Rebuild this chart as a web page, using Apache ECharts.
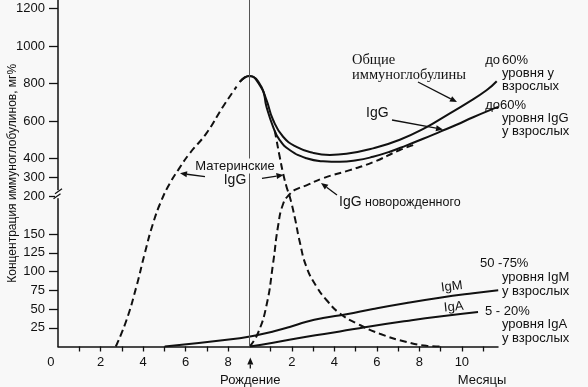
<!DOCTYPE html>
<html>
<head>
<meta charset="utf-8">
<script src="https://cdn.jsdelivr.net/npm/echarts@6/dist/echarts.min.js"></script>
<style>
html,body{margin:0;padding:0;background:#f8f8f8;}
#c{width:588px;height:387px;}
</style>
</head>
<body>
<div id="c"></div>
<script>
// ---- data: [month counted from conception (birth = 9), mg%] ----
const maternalBeforeBirth = [[2.72,0],[3.22,35],[3.69,80],[4.08,124],[4.47,164],[4.87,195],[5.26,268],[5.65,338],[6.20,428],[6.98,534],[7.76,676],[8.40,783]];
const totalIg = [[8.55,808],[9.0,840],[9.49,791],[9.81,711],[10.12,605],[10.59,516],[11.22,462],[12.0,430],[12.79,419],[13.57,425],[14.82,454],[16.08,500],[17.34,567],[18.28,630],[19.22,694],[20.16,764],[20.64,812]];
const igG = [[8.55,808],[9.0,840],[9.57,782],[9.81,675],[10.12,569],[10.43,498],[10.90,445],[11.69,401],[12.47,385],[13.26,382],[14.04,390],[14.82,409],[15.61,436],[16.40,470],[17.18,505],[17.96,542],[18.75,580],[19.53,620],[20.32,658],[20.71,675]];
const maternalAfterBirth = [[10.20,548],[10.28,498],[10.43,409],[10.59,321],[10.75,251],[10.90,200],[11.14,172],[11.37,140],[11.69,106],[12.16,80],[12.63,62],[13.26,44],[14.04,31],[15.14,17],[16.40,6],[17.34,1],[17.96,0]];
const newbornIgG = [[9.02,0],[9.41,18],[9.81,55],[10.12,111],[10.35,160],[10.59,190],[10.90,212],[11.22,238],[11.69,258],[12.47,295],[13.73,338],[14.82,380],[16.08,445],[16.71,471]];
const igM = [[5.02,0],[8.55,11],[9.34,15],[10.12,20],[10.90,26],[11.69,33],[12.47,38],[13.57,43],[14.82,50],[16.40,58],[17.96,65],[19.53,71],[20.71,75]];
const igA = [[9.02,0],[10.12,5],[11.69,13],[13.26,20],[14.51,26],[16.40,34],[17.96,40],[19.76,46]];

const yTickValues = [25,50,75,100,125,150,200,300,400,600,800,1000,1200];
const xTickMonths = [1,2,3,4,5,6,7,8,10,11,12,13,14,15,16,17,18,19,20];
const xLabelMonths = [0,2,4,6,8,11,13,15,17,19];
const BIRTH = 9;

// ---- broken y scale: 0..200 linear, 200..300 squeezed, 300..1200 at 1/4 scale ----
const UPPER_START = 225.7, UPPER_K = 0.25;
function toAxis(v){
  if (v <= 200) return v;
  if (v < 300) return 200 + (v - 200) * (UPPER_START - 200) / 100;
  return UPPER_START + (v - 300) * UPPER_K;
}
const conv = arr => arr.map(p => [p[0], toAxis(p[1])]);
const yTickAxis = yTickValues.map(toAxis);

const FONT = '"Liberation Sans", Arial, sans-serif';
const INK = '#111';
const chart = echarts.init(document.getElementById('c'), null, {renderer:'canvas'});

function lineSeries(name, data, dashed, extra){
  return Object.assign({
    name, type:'line', data: conv(data), showSymbol:false, smooth:0.5,
    lineStyle:{color:INK, width:2, type: dashed ? [7,4] : 'solid'},
    z: dashed ? 3 : 4, silent:true, animation:false
  }, extra || {});
}

const option = {
  backgroundColor:'#f8f8f8',
  animation:false,
  grid:{left:58, top:0, width:440, height:346.5, containLabel:false, outerBoundsMode:'none'},
  xAxis:{
    type:'value', min:0, max:20.7,
    axisLine:{show:true, lineStyle:{color:INK, width:1.5}},
    axisTick:{show:true, customValues:xTickMonths, length:5, lineStyle:{color:INK, width:1.3}},
    axisLabel:{customValues:xLabelMonths, margin:9, fontSize:13, fontFamily:FONT, color:INK,
      formatter: v => v === 0 ? '0\u00a0\u00a0\u00a0\u00a0' : String(v < BIRTH ? v : v - BIRTH)},
    splitLine:{show:false}
  },
  yAxis:{
    type:'value', min:0, max:462,
    name:'Концентрация иммуноглобулинов, мг%', nameLocation:'middle', nameRotate:90, nameGap:39,
    nameMoveOverlap:false,
    nameTextStyle:{fontSize:12, fontFamily:FONT, color:INK},
    axisLine:{show:true, lineStyle:{color:INK, width:1.5}},
    axisTick:{show:true, customValues:yTickAxis, length:9, lineStyle:{color:INK, width:1.3}},
    axisLabel:{customValues:yTickAxis, margin:13, fontSize:13, fontFamily:FONT, color:INK,
      formatter: v => { const i = yTickAxis.findIndex(t => Math.abs(t - v) < 1e-6); return i >= 0 ? String(yTickValues[i]) : ''; }},
    splitLine:{show:false}
  },
  series:[
    lineSeries('Материнские IgG (до рождения)', maternalBeforeBirth, true, {
      markLine:{silent:true, symbol:'none', label:{show:false},
        lineStyle:{color:'#555', width:1, type:'solid'}, data:[{xAxis:BIRTH}]}
    }),
    lineSeries('Общие иммуноглобулины', totalIg, false),
    lineSeries('IgG', igG, false),
    lineSeries('Материнские IgG (после рождения)', maternalAfterBirth, true),
    lineSeries('IgG новорожденного', newbornIgG, true),
    lineSeries('IgM', igM, false),
    lineSeries('IgA', igA, false)
  ]
};
chart.setOption(option);

// ---- annotations ----
function txt(x, y, text, opt){
  opt = opt || {};
  return {type:'text', x, y, z:100, rotation: opt.rotation || 0,
    style:{text, fill:INK, fontSize: opt.size || 13, fontFamily: opt.family || FONT,
      align: opt.align || 'left', verticalAlign:'middle',
      backgroundColor: opt.bg, padding: opt.bg ? [1,2] : 0}};
}
function arrow(x1, y1, x2, y2){
  const a = Math.atan2(y2 - y1, x2 - x1), L = 7, W = 3;
  const bx = x2 - L * Math.cos(a), by = y2 - L * Math.sin(a);
  const px = -Math.sin(a) * W, py = Math.cos(a) * W;
  return [
    {type:'line', z:100, shape:{x1, y1, x2:bx, y2:by}, style:{stroke:INK, lineWidth:1.3}},
    {type:'polygon', z:100, shape:{points:[[x2,y2],[bx+px,by+py],[bx-px,by-py]]}, style:{fill:INK}}
  ];
}
const ax = chart.convertToPixel({gridIndex:0}, [0, toAxis(212)]);
const birthPx = chart.convertToPixel({gridIndex:0}, [BIRTH, 0]);
const BG = '#f8f8f8';
const SERIF = '"Liberation Serif", serif';
const graphics = [].concat(
  [
    {type:'rect', z:100, shape:{x:ax[0]-3, y:ax[1]-4, width:6, height:8}, style:{fill:BG}},
    {type:'line', z:101, shape:{x1:ax[0]-3, y1:ax[1]-0.5, x2:ax[0]+4, y2:ax[1]-5.5}, style:{stroke:INK, lineWidth:1.3}},
    {type:'line', z:101, shape:{x1:ax[0]-4.5, y1:ax[1]+4.5, x2:ax[0]+2.5, y2:ax[1]-0.5}, style:{stroke:INK, lineWidth:1.3}}
  ],
  arrow(birthPx[0] + 1, birthPx[1] + 22, birthPx[0] + 1, birthPx[1] + 11),
  [
    txt(birthPx[0] + 1, 380, 'Рождение', {align:'center'}),
    txt(482, 380, 'Месяцы', {align:'center'}),
    txt(352, 60, 'Общие', {family:SERIF, size:14.5}),
    txt(352, 75, 'иммуноглобулины', {family:SERIF, size:14.5}),
    txt(500, 60, 'до', {align:'right'}),
    txt(502, 60, '60%'),
    txt(502, 73, 'уровня у'),
    txt(502, 86, 'взрослых'),
    txt(500, 105, 'до', {align:'right'}),
    txt(500, 105, '60%'),
    txt(502, 118, 'уровня IgG'),
    txt(502, 131, 'у взрослых'),
    txt(366, 113, 'IgG', {size:14}),
    txt(235, 166, 'Материнские', {align:'center', bg:BG}),
    txt(235, 180, 'IgG', {align:'center', bg:BG, size:14}),
    txt(339, 202, 'IgG', {size:14}),
    txt(365, 203, 'новорожденного', {size:12.5}),
    txt(441, 288, 'IgM', {rotation:0.12}),
    txt(444, 308, 'IgA', {rotation:0.1}),
    txt(480, 263, '50 -75%'),
    txt(502, 277, 'уровня IgM'),
    txt(502, 291, 'у взрослых'),
    txt(485, 311, '5 - 20%'),
    txt(502, 324, 'уровня IgA'),
    txt(502, 338, 'у взрослых')
  ],
  arrow(418, 82, 457, 102),
  arrow(392, 120, 443, 129.5),
  arrow(205, 176.7, 180, 173.3),
  arrow(262, 178.3, 283.5, 175),
  arrow(337, 195, 321, 183)
);
chart.setOption({graphic:{elements:graphics}});
</script>
</body>
</html>
